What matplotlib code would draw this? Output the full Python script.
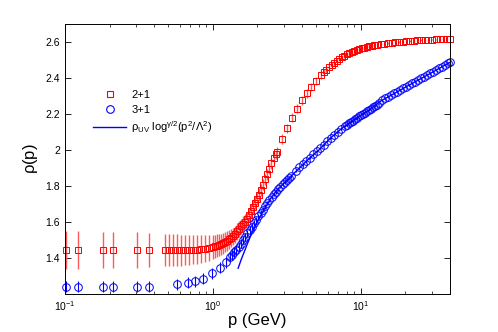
import matplotlib

matplotlib.use('Agg')

import matplotlib.pyplot as plt
from matplotlib.lines import Line2D
from matplotlib.ticker import FuncFormatter, LogLocator

plt.rcParams['font.family'] = ['Liberation Sans', 'DejaVu Sans']
plt.rcParams['mathtext.default'] = 'regular'

# 2+1 data (red squares)
p_21 = [0.102, 0.123, 0.180, 0.212, 0.305, 0.371,
        0.474, 0.505, 0.537, 0.571, 0.608, 0.647, 0.688, 0.732, 0.779, 0.829, 0.882, 0.938, 0.998,
        1.03, 1.063, 1.097, 1.132, 1.168, 1.205, 1.244, 1.284, 1.325, 1.367, 1.411, 1.456, 1.503,
        1.551, 1.60, 1.651, 1.704, 1.759, 1.815, 1.873, 1.933, 1.995, 2.059, 2.125, 2.193, 2.263,
        2.335, 2.41, 2.487, 2.566, 2.648,
        2.72, 2.93, 3.16, 3.41, 3.68, 3.97, 4.29, 4.63, 5.0, 5.4,
        5.62, 5.85, 6.08, 6.33, 6.58, 6.85, 7.12, 7.41, 7.7, 8.01, 8.33, 8.67, 9.01, 9.37, 9.75,
        10.14, 10.55, 10.97, 11.41, 11.87, 12.34, 12.84,
        13.6, 14.4, 15.25, 16.15, 17.1, 18.1, 19.2, 20.3, 21.5, 22.8, 24.1, 25.5, 27.0, 28.6,
        30.3, 32.1, 34.0, 36.0, 38.1, 39.9]
rho_21 = [1.444, 1.444, 1.444, 1.444, 1.444, 1.444,
          1.444, 1.444, 1.444, 1.444, 1.444, 1.445, 1.445, 1.446, 1.447, 1.449, 1.452, 1.456, 1.461,
          1.464, 1.467, 1.471, 1.476, 1.481, 1.488, 1.495, 1.503, 1.512, 1.521, 1.532, 1.548, 1.561,
          1.575, 1.589, 1.602, 1.616, 1.638, 1.661, 1.685, 1.707, 1.730, 1.752, 1.778, 1.808, 1.836,
          1.865, 1.895, 1.925, 1.956, 1.975,
          1.99, 2.06, 2.12, 2.18, 2.23, 2.275, 2.315, 2.35, 2.385, 2.415,
          2.432, 2.447, 2.46, 2.473, 2.485, 2.496, 2.506, 2.515, 2.523, 2.531, 2.538, 2.545, 2.551,
          2.556, 2.561, 2.565, 2.569, 2.573, 2.576, 2.579, 2.582, 2.584,
          2.587, 2.590, 2.593, 2.596, 2.598, 2.600, 2.602, 2.604, 2.606, 2.607, 2.609, 2.610, 2.611,
          2.612, 2.613, 2.614, 2.615, 2.616, 2.617, 2.617]
err_21 = [0.105, 0.105, 0.1, 0.1, 0.098, 0.096,
          0.088, 0.088, 0.088, 0.087, 0.086, 0.085, 0.084, 0.082, 0.08, 0.077, 0.074, 0.071, 0.068,
          0.066, 0.064, 0.062, 0.06, 0.058, 0.056, 0.054, 0.052, 0.05, 0.048, 0.047, 0.046, 0.045,
          0.044, 0.043, 0.042, 0.041, 0.04, 0.039, 0.038, 0.037, 0.036, 0.035, 0.034, 0.033, 0.032,
          0.031, 0.03, 0.029, 0.028, 0.027,
          0.028, 0.028, 0.027, 0.027, 0.026, 0.025, 0.024, 0.023, 0.022, 0.021,
          0.02, 0.019, 0.018, 0.017, 0.016, 0.015, 0.014, 0.013, 0.012, 0.012, 0.011, 0.011, 0.01,
          0.01, 0.01, 0.009, 0.009, 0.009, 0.008, 0.008, 0.008, 0.008,
          0.006, 0.006, 0.006, 0.006, 0.005, 0.005, 0.005, 0.005, 0.005, 0.005, 0.004, 0.004,
          0.004, 0.004, 0.004, 0.004, 0.004, 0.004, 0.004, 0.004]

# 3+1 data (blue circles)
p_31 = [0.102, 0.123, 0.180, 0.212, 0.305, 0.371,
        0.57, 0.674, 0.755, 0.86, 0.98, 1.115, 1.23,
        1.30, 1.345, 1.39, 1.44, 1.49, 1.54, 1.595, 1.65, 1.71, 1.77, 1.83, 1.895, 1.96, 2.03,
        2.10, 2.17, 2.25, 2.33, 2.41, 2.49, 2.58, 2.67, 2.76, 2.86, 2.96, 3.06, 3.17, 3.28, 3.39,
        3.62, 3.83, 4.04, 4.27, 4.51, 4.76, 5.03, 5.31, 5.61, 5.92, 6.25, 6.6, 6.97, 7.36, 7.77,
        8.0, 8.26, 8.52, 8.8, 9.08, 9.37, 9.67, 9.98, 10.3, 10.63, 10.97, 11.32, 11.68, 12.05,
        12.44, 12.84, 13.25,
        13.9, 14.55, 15.25, 15.98, 16.75, 17.55, 18.4, 19.28, 20.2, 21.17, 22.2, 23.26, 24.38,
        25.55, 26.78, 28.06, 29.4, 30.8, 32.3, 33.85, 35.47, 37.17, 38.95, 39.9]
rho_31 = [1.24, 1.24, 1.24, 1.24, 1.24, 1.24,
          1.254, 1.262, 1.27, 1.284, 1.315, 1.345, 1.375,
          1.405, 1.418, 1.432, 1.447, 1.463, 1.48, 1.498, 1.517, 1.537, 1.556, 1.574, 1.593, 1.612,
          1.631, 1.650, 1.668, 1.687, 1.705, 1.722, 1.738, 1.754, 1.769, 1.783, 1.797, 1.810, 1.822,
          1.834, 1.845, 1.855,
          1.885, 1.903, 1.92, 1.938, 1.957, 1.976, 1.994, 2.012, 2.03, 2.048, 2.066, 2.084, 2.101,
          2.117, 2.132,
          2.14, 2.148, 2.155, 2.163, 2.171, 2.178, 2.186, 2.193, 2.2, 2.208, 2.215, 2.222, 2.23,
          2.237, 2.245, 2.252, 2.259,
          2.277, 2.286, 2.295, 2.305, 2.314, 2.323, 2.333, 2.342, 2.351, 2.361, 2.37, 2.379, 2.389,
          2.398, 2.407, 2.417, 2.426, 2.435, 2.445, 2.454, 2.463, 2.473, 2.482, 2.487]
err_31 = [0.03, 0.03, 0.03, 0.03, 0.03, 0.03,
          0.03, 0.03, 0.03, 0.03, 0.03, 0.03, 0.03,
          0.029, 0.028, 0.027, 0.026, 0.025, 0.024, 0.023, 0.022, 0.021, 0.02, 0.019, 0.018, 0.017,
          0.016, 0.015, 0.014, 0.013, 0.013, 0.012, 0.012, 0.011, 0.011, 0.01, 0.01, 0.01, 0.01,
          0.009, 0.009, 0.009,
          0.008, 0.008, 0.008, 0.008, 0.007, 0.007, 0.007, 0.007, 0.006, 0.006, 0.006, 0.006, 0.006,
          0.005, 0.005,
          0.005, 0.005, 0.005, 0.005, 0.005, 0.005, 0.004, 0.004, 0.004, 0.004, 0.004, 0.004, 0.004,
          0.004, 0.004, 0.004, 0.004,
          0.003, 0.003, 0.003, 0.003, 0.003, 0.003, 0.003, 0.003, 0.003, 0.003, 0.003, 0.003, 0.003,
          0.003, 0.003, 0.003, 0.003, 0.003, 0.003, 0.003, 0.003, 0.003, 0.003, 0.003]

# UV fit curve
p_fit = [1.48, 1.55, 1.645, 1.73, 1.83, 1.92, 2.02, 2.2, 2.45, 2.7, 3.0, 3.4, 3.9, 4.5, 5.2,
         6.2, 7.5, 9.0, 11.0, 13.5, 16.5, 20.0, 25.0, 32.0, 40.0]
rho_fit = [1.343, 1.39, 1.444, 1.49, 1.537, 1.573, 1.61, 1.665, 1.728, 1.775, 1.813, 1.857,
           1.905, 1.955, 2.0, 2.065, 2.123, 2.17, 2.215, 2.27, 2.31, 2.349, 2.393, 2.442, 2.487]

RED = '#ff0000'
RED_BAR = '#ff5a5a'
BLUE = '#0000ff'

fig = plt.figure(figsize=(4.98, 3.32), dpi=100)
ax = fig.add_axes([0.1305, 0.1145, 0.7731, 0.8133])

eb = ax.errorbar(p_21, rho_21, yerr=err_21, fmt='s', ms=5, mfc='none', mec=RED, mew=0.7,
                 ecolor=RED_BAR, elinewidth=1.0, capsize=0)
eb.lines[0].set_clip_on(False)

eb2 = ax.errorbar(p_31, rho_31, yerr=err_31, fmt='o', ms=5.5, mfc='none', mec=BLUE, mew=0.7,
                  ecolor=BLUE, elinewidth=0.8, capsize=0)
eb2.lines[0].set_clip_on(False)

fit_line, = ax.plot(p_fit, rho_fit, color=BLUE, lw=1.0)

ax.set_xscale('log')
ax.set_xlim(0.1, 40)
ax.set_ylim(1.2, 2.7)
ax.set_yticks([1.4, 1.6, 1.8, 2.0, 2.2, 2.4, 2.6])
ax.yaxis.set_major_formatter(FuncFormatter(lambda v, pos: f'{v:g}'))
ax.xaxis.set_minor_locator(LogLocator(base=10, subs=range(2, 10)))
ax.tick_params(which='both', direction='in', top=True, right=True, labelsize=7.5)
ax.tick_params(which='major', length=4, width=0.6)
ax.tick_params(which='minor', length=2, width=0.5)
for spine in ax.spines.values():
    spine.set_linewidth(0.7)

ax.set_xlabel('p (GeV)', fontsize=12, labelpad=0)
ax.set_ylabel(r'$\rho$(p)', fontsize=12)

handles = [
    Line2D([], [], ls='none', marker='s', ms=5, mfc='none', mec=RED, mew=0.8),
    Line2D([], [], ls='none', marker='o', ms=5.5, mfc='none', mec=BLUE, mew=0.8),
    fit_line,
]
labels = ['2+1', '3+1', r'$\rho_{UV}$ log$^{\gamma/2}$(p$^2$/$\Lambda^2$)']
ax.legend(handles, labels, loc='upper left', bbox_to_anchor=(0.073, 0.757), frameon=False,
          fontsize=8, handlelength=3.0, handletextpad=0.45, borderaxespad=0, borderpad=0,
          labelspacing=0.45)

fig.savefig('out.png', dpi=100)
